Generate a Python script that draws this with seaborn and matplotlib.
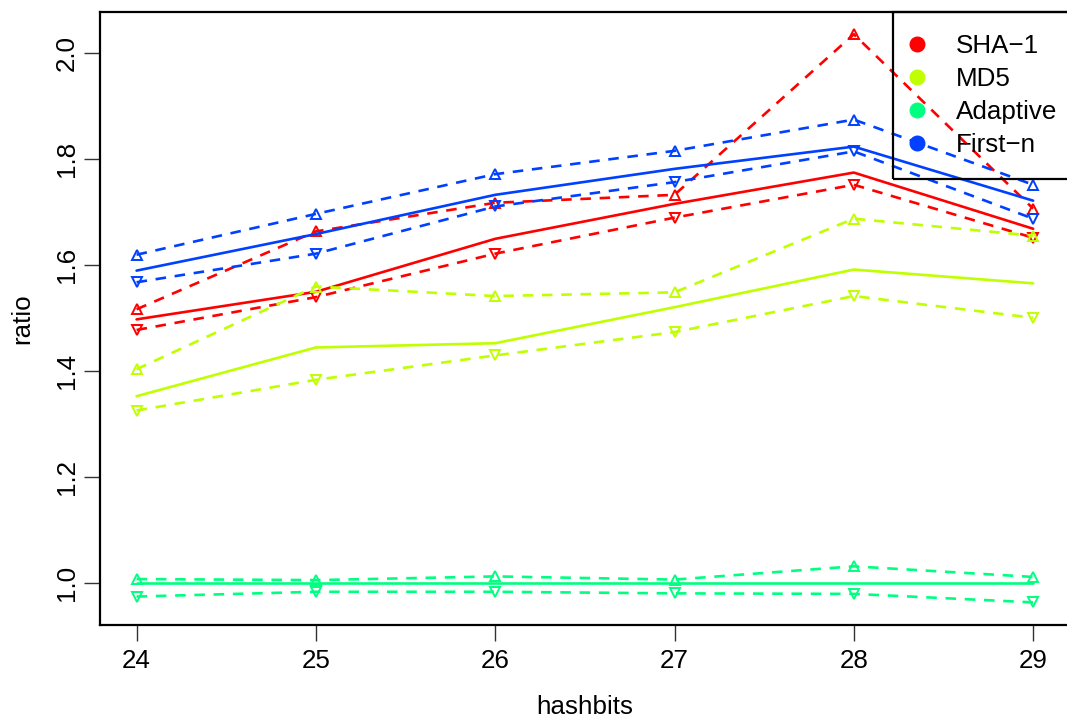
import numpy as np
import pandas as pd
import matplotlib
matplotlib.use("Agg")
import matplotlib.pyplot as plt
import seaborn as sns
from matplotlib.lines import Line2D

# data
hashbits = [24, 25, 26, 27, 28, 29]
methods = ["SHA−1", "MD5", "Adaptive", "First−n"]
colors = ["#FF0000", "#BFFF00", "#00FF80", "#0040FF"]

sha1_mean = [1.498, 1.550, 1.650, 1.716, 1.775, 1.669]
sha1_hi = [1.517, 1.664, 1.718, 1.733, 2.036, 1.707]
sha1_lo = [1.478, 1.540, 1.622, 1.690, 1.752, 1.652]

md5_mean = [1.353, 1.445, 1.453, 1.521, 1.592, 1.566]
md5_hi = [1.404, 1.560, 1.542, 1.549, 1.688, 1.656]
md5_lo = [1.326, 1.384, 1.430, 1.474, 1.542, 1.501]

adapt_mean = [1.000, 1.000, 1.000, 1.000, 1.000, 1.000]
adapt_hi = [1.008, 1.006, 1.013, 1.007, 1.032, 1.012]
adapt_lo = [0.975, 0.984, 0.984, 0.981, 0.980, 0.964]

firstn_mean = [1.590, 1.659, 1.733, 1.782, 1.824, 1.722]
firstn_hi = [1.620, 1.697, 1.772, 1.816, 1.875, 1.752]
firstn_lo = [1.568, 1.622, 1.711, 1.757, 1.815, 1.688]

series = {
    "SHA−1": (sha1_mean, sha1_hi, sha1_lo),
    "MD5": (md5_mean, md5_hi, md5_lo),
    "Adaptive": (adapt_mean, adapt_hi, adapt_lo),
    "First−n": (firstn_mean, firstn_hi, firstn_lo),
}

sns.set_style("ticks")
plt.rcParams["font.family"] = ["Liberation Sans", "DejaVu Sans"]
plt.rcParams["font.size"] = 18.7
plt.rcParams["text.color"] = "black"
plt.rcParams["axes.labelcolor"] = "black"

fig = plt.figure(figsize=(10.67, 7.22), dpi=100)
W, H = 1067, 722
ax = fig.add_axes([100 / W, 1 - 625 / H, (1069 - 100) / W, (625 - 12) / H])

dash = (0, (4, 3.3))
for name, col in zip(methods, colors):
    mean, hi, lo = series[name]
    sns.lineplot(x=hashbits, y=mean, color=col, linewidth=1.9, ax=ax, legend=False)
    sns.lineplot(x=hashbits, y=hi, color=col, linewidth=1.9, linestyle=dash,
                 marker="^", markersize=7.5, markerfacecolor="none",
                 markeredgecolor=col, markeredgewidth=1.4, ax=ax, legend=False)
    sns.lineplot(x=hashbits, y=lo, color=col, linewidth=1.9, linestyle=dash,
                 marker="v", markersize=7.5, markerfacecolor="none",
                 markeredgecolor=col, markeredgewidth=1.4, ax=ax, legend=False)

ax.set_xlim(23.796, 29.2)
ax.set_ylim(0.9213, 2.078)
ax.set_xticks(hashbits)
ax.set_yticks([1.0, 1.2, 1.4, 1.6, 1.8, 2.0])
ax.set_yticklabels(["1.0", "1.2", "1.4", "1.6", "1.8", "2.0"], rotation=90, va="center")
ax.tick_params(axis="both", direction="out", length=11.5, width=1.0, color="#333333",
               labelsize=18.7, labelcolor="black")
ax.tick_params(axis="x", pad=5.5)
ax.tick_params(axis="y", pad=3.6)
for s in ax.spines.values():
    s.set_linewidth(1.6)
    s.set_color("black")
    s.set_visible(True)

ax.set_xlabel("hashbits", fontsize=18.7, labelpad=16, color="black")
ax.set_ylabel("ratio", fontsize=18.7, labelpad=15, color="black")

handles = [Line2D([], [], linestyle="none", marker="o", markersize=10.5,
                  markerfacecolor=c, markeredgecolor=c) for c in colors]
leg = fig.legend(handles, methods, loc="upper left",
                 bbox_to_anchor=(893 / W, 1 - 12 / H), fontsize=18.7,
                 frameon=True, fancybox=False, edgecolor="black",
                 framealpha=1, borderpad=0.85, handlelength=0.15,
                 handletextpad=1.42, labelspacing=0.35, borderaxespad=0)
leg.get_frame().set_facecolor("none")
leg.get_frame().set_linewidth(1.6)
for t in leg.get_texts():
    t.set_color("black")

fig.savefig("out.png", dpi=100)
